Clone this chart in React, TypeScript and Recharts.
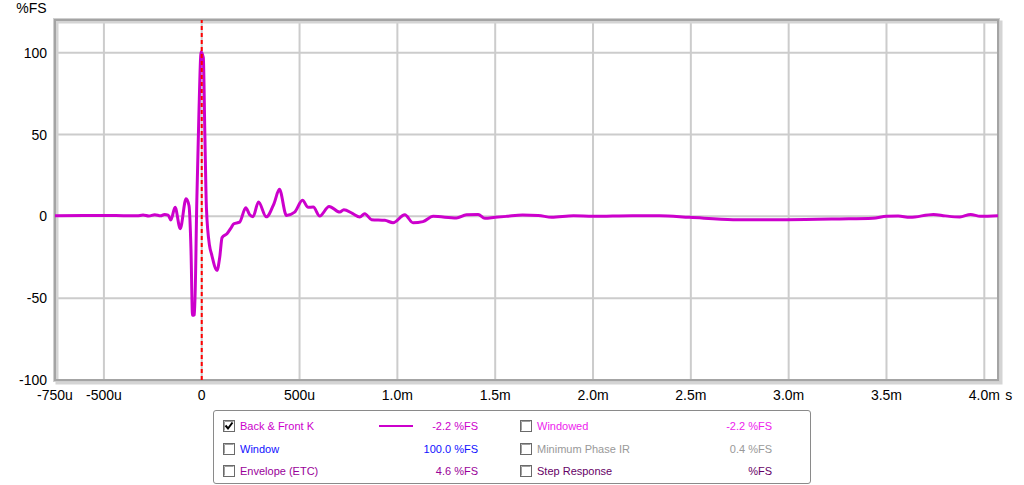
import React from 'react';
import {
  LineChart,
  Line,
  XAxis,
  YAxis,
  CartesianGrid,
  ReferenceArea,
  Label,
} from 'recharts';

// time in ms
const times = [
  -0.75, -0.6, -0.5, -0.4, -0.33, -0.3, -0.27, -0.24, -0.21, -0.19, -0.172, -0.158, -0.136, -0.11, -0.08,
  -0.065, -0.055, -0.047, -0.037, -0.025, -0.015, -0.003, 0.008, 0.016, 0.024, 0.04, 0.05, 0.078, 0.092,
  0.104, 0.13, 0.15, 0.164, 0.194, 0.225, 0.245, 0.262, 0.29, 0.33, 0.37, 0.397, 0.433, 0.475, 0.515,
  0.544, 0.57, 0.603, 0.651, 0.706, 0.726, 0.77, 0.808, 0.833, 0.868, 0.936, 0.978, 1.038, 1.08, 1.131,
  1.183, 1.302, 1.353, 1.413, 1.447, 1.5, 1.558, 1.64, 1.72, 1.788, 1.9, 2.0, 2.2, 2.34, 2.495, 2.716,
  2.99, 3.26, 3.43, 3.5, 3.56, 3.62, 3.74, 3.8, 3.875, 3.93, 3.98, 4.07,
];
// %FS
const values = [
  0.4, 0.5, 0.5, 0.4, 0.3, 0.8, 0.2, 1.0, 0.3, 1.2, 0.8, -2.2, 5.5, -7.5, 10.8,
  6.5, -20, -60.5, -60, 10, 60, 100.5, 97, 50, 5, -18, -23, -33, -25,
  -13, -10.5, -7, -4.5, -3.5, 5.3, 1, -0.2, 8.8, -0.3, 8, 16.5, 0.6, 2.6, 9.8,
  5.5, 5.7, 0.2, 6.1, 2.6, 4, 1.8, -0.4, 1.6, -2, -2.4, -3.9, 1, -3.9, -3.2,
  0, -1, 1, 1.2, -1.2, -0.6, 0, 0.8, 0.6, -0.6, 0.3, 0, 0.4, 0.4, -0.6, -2,
  -2, -1.6, -1.2, 0, 0.2, -0.6, 1.2, 0.3, -0.4, 1.2, 0, 0.4,
];

// red dashed time marker (at t = 0)
const markerTimes = [0, 0];
const markerValues = [-100, 120];

const xTicks = [-0.75, -0.5, 0, 0.5, 1.0, 1.5, 2.0, 2.5, 3.0, 3.5, 4.0];
const xTickLabels = ['-750u', '-500u', '0', '500u', '1.0m', '1.5m', '2.0m', '2.5m', '3.0m', '3.5m', '4.0m'];
const yTicks = [-100, -50, 0, 50, 100];
const xDomain = [-0.75, 4.07];
const yDomain = [-100, 120];

const legendLabels = ['Back & Front K', 'Windowed', 'Window', 'Minimum Phase IR', 'Envelope (ETC)', 'Step Response'];
const legendValues = ['-2.2 %FS', '-2.2 %FS', '100.0 %FS', '0.4 %FS', '4.6 %FS', '%FS'];
const legendColors = ['#cc00cc', '#ee22ee', '#1010ff', '#999999', '#990099', '#660066'];
const legendChecked = [true, false, false, false, false, false];

const data = times.map((t, i) => ({ t, v: values[i] }));
const markerData = markerTimes.map((t, i) => ({ t, m: markerValues[i] }));

const FONT = '"Liberation Sans", Arial, sans-serif';

const XTick = (props: any) => {
  const { x, y, payload } = props;
  const idx = xTicks.indexOf(payload.value);
  const label = idx >= 0 ? xTickLabels[idx] : String(payload.value);
  const isLast = idx === xTicks.length - 1;
  return (
    <g>
      <text x={x} y={y} dy="0.71em" textAnchor="middle" fontSize={14} fontFamily={FONT} fill="#000">
        {label}
      </text>
      {isLast && (
        <text x={x + 21} y={y} dy="0.71em" textAnchor="start" fontSize={14} fontFamily={FONT} fill="#000">
          s
        </text>
      )}
    </g>
  );
};

const Frame = (props: any) => {
  const { x, y, width, height } = props;
  return (
    <g>
      <rect x={x + 2} y={y + 2} width={width + 1} height={height + 1} fill="none" stroke="#d4d4d4" strokeWidth={3} />
      <rect x={x} y={y} width={width} height={height} fill="none" stroke="#a4a4a4" strokeWidth={2} />
      <rect x={x - 1.5} y={y - 1.5} width={width + 3} height={height + 3} fill="none" stroke="#cfcfcf" strokeWidth={1} />
    </g>
  );
};

const CheckBox = ({ checked }: { checked: boolean }) => (
  <svg width={12} height={12} style={{ display: 'block' }}>
    <rect x={0.5} y={0.5} width={11} height={11} fill="#fff" stroke="#6a6a6a" />
    <line x1={1.5} y1={1.5} x2={10.5} y2={1.5} stroke="#a0a0a0" />
    <line x1={1.5} y1={1.5} x2={1.5} y2={10.5} stroke="#a0a0a0" />
    {checked && <path d="M2.5 5.5 L5 8.5 L9.5 2.5" fill="none" stroke="#000" strokeWidth={2} />}
  </svg>
);

const LegendBox = () => {
  const rows = [0, 1, 2];
  return (
    <div
      style={{
        position: 'absolute',
        left: 213,
        top: 410,
        width: 596,
        height: 72,
        border: '1px solid #8a8a8a',
        borderRadius: 3,
        background: '#fff',
        fontFamily: FONT,
        fontSize: 11,
      }}
    >
      {rows.map((r) =>
        [0, 1].map((c) => {
          const i = r * 2 + c;
          const top = 8 + r * 22.5;
          const colLeft = c === 0 ? 9 : 306;
          const valueRight = c === 0 ? 596 - 264 : 596 - 558;
          return (
            <React.Fragment key={i}>
              <div style={{ position: 'absolute', left: colLeft, top: top + 1 }}>
                <CheckBox checked={legendChecked[i]} />
              </div>
              <div style={{ position: 'absolute', left: colLeft + 17, top: top, color: legendColors[i], whiteSpace: 'nowrap', lineHeight: '14px' }}>
                {legendLabels[i]}
              </div>
              {i === 0 && (
                <div style={{ position: 'absolute', left: 165, top: top + 6, width: 34, height: 2, background: legendColors[0] }} />
              )}
              <div
                style={{
                  position: 'absolute',
                  right: valueRight,
                  top: top,
                  color: legendColors[i],
                  whiteSpace: 'nowrap',
                  lineHeight: '14px',
                  textAlign: 'right',
                }}
              >
                {legendValues[i]}
              </div>
            </React.Fragment>
          );
        })
      )}
    </div>
  );
};

export default function App() {
  return (
    <div style={{ position: 'absolute', left: 0, top: 0, width: 1024, height: 485, background: '#fff', overflow: 'hidden' }}>
      <LineChart width={1024} height={485} data={data} margin={{ top: 20, right: 26, bottom: 75, left: 8 }}>
        <CartesianGrid stroke="#cccccc" strokeWidth={2} />
        <XAxis
          dataKey="t"
          type="number"
          domain={xDomain}
          ticks={xTicks}
          allowDataOverflow
          axisLine={false}
          tickLine={false}
          tickMargin={4}
          height={30}
          interval={0}
          tick={<XTick />}
        />
        <YAxis
          type="number"
          domain={yDomain}
          ticks={yTicks}
          allowDataOverflow
          axisLine={false}
          tickLine={false}
          width={47}
          interval={0}
          tick={{ fontSize: 14, fontFamily: FONT, fill: '#000' }}
        >
          <Label value="%FS" position="top" offset={7} fontSize={14} fontFamily={FONT} fill="#000" />
        </YAxis>
        <ReferenceArea
          x1={xDomain[0]}
          x2={xDomain[1]}
          y1={yDomain[0]}
          y2={yDomain[1]}
          ifOverflow="visible"
          shape={<Frame />}
        />
        <Line
          type="monotone"
          dataKey="v"
          stroke="#cc00cc"
          strokeWidth={3}
          dot={false}
          isAnimationActive={false}
        />
        <Line
          data={markerData}
          type="linear"
          dataKey="m"
          stroke="#ff0000"
          strokeWidth={2}
          strokeDasharray="4 3"
          dot={false}
          activeDot={false}
          isAnimationActive={false}
        />
      </LineChart>
      <LegendBox />
    </div>
  );
}
